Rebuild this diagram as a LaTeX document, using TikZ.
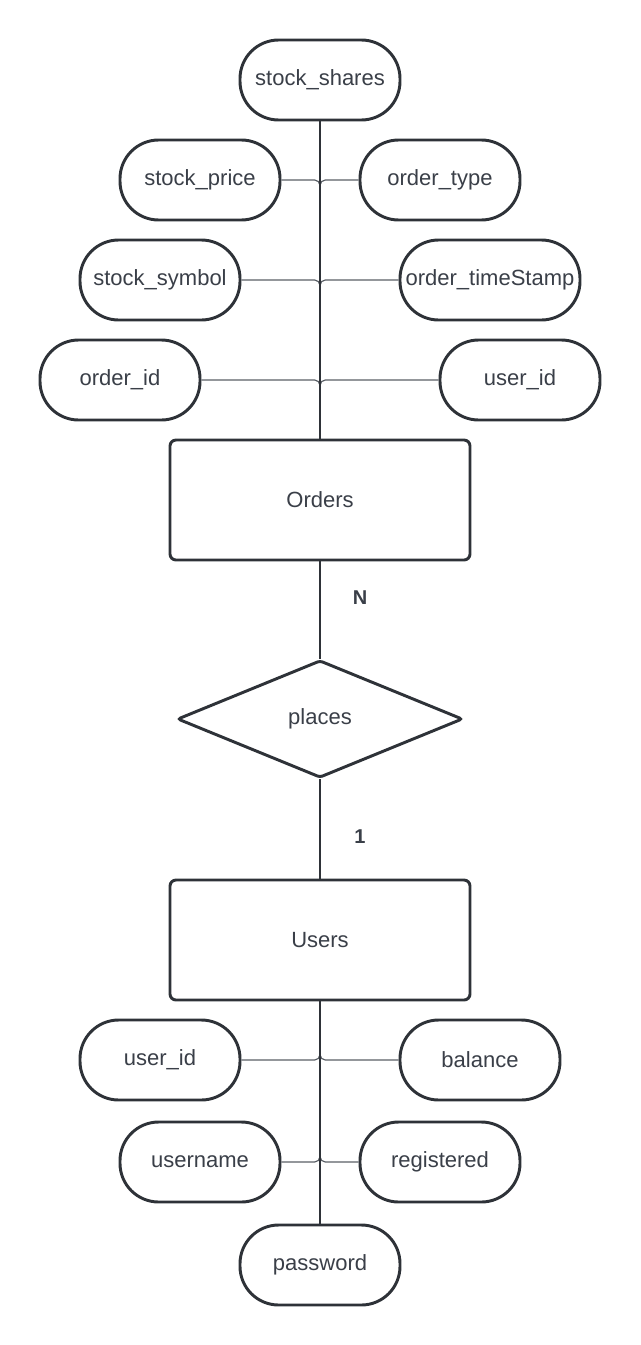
\documentclass[tikz,border=0pt]{standalone}
\usepackage{fontspec}
\setmainfont{Liberation Sans}
\usetikzlibrary{shapes.geometric}
\definecolor{ink}{HTML}{2E3238}
\definecolor{txt}{HTML}{3A3F48}
\definecolor{wire}{HTML}{5A5F66}
\tikzset{
  attr/.style={draw=ink, line width=2.2pt, rectangle, rounded corners=29pt,
    minimum width=120pt, minimum height=60pt, inner sep=0pt,
    font=\fontsize{16.5}{18}\selectfont, text=txt, fill=white},
  entity/.style={draw=ink, line width=2.2pt, rectangle, rounded corners=4.5pt,
    minimum width=225pt, minimum height=90pt, inner sep=0pt,
    font=\fontsize{16.5}{18}\selectfont, text=txt, fill=white},
  rel/.style={draw=ink, line width=2.2pt, diamond, rounded corners=2pt,
    minimum width=214pt, minimum height=88pt, inner sep=0pt,
    font=\fontsize{16.5}{18}\selectfont, text=txt, fill=white},
  card/.style={font=\bfseries\fontsize{15}{17}\selectfont, text=txt},
  spine/.style={draw=ink, line width=1.4pt},
  link/.style={draw=wire, line width=0.9pt, rounded corners=4pt},
}
\begin{document}
\begin{tikzpicture}[x=0.75pt,y=-0.75pt]
\useasboundingbox (0,0) rectangle (640,1345);
% nodes
\node[attr] (shares) at (320,80) {stock\_shares};
\node[attr] (price) at (200,180) {stock\_price};
\node[attr] (otype) at (440,180) {order\_type};
\node[attr] (symbol) at (160,280) {stock\_symbol};
\node[attr, minimum width=135pt] (ots) at (490,280) {order\_timeStamp};
\node[attr] (oid) at (120,380) {order\_id};
\node[attr] (ouid) at (520,380) {user\_id};
\node[entity] (orders) at (320,500) {Orders};
\node[rel] (places) at (320,719) {places};
\node[entity] (users) at (320,940) {Users};
\node[attr] (uid) at (160,1060) {user\_id};
\node[attr] (balance) at (480,1060) {balance};
\node[attr] (uname) at (200,1162) {username};
\node[attr] (reg) at (440,1162) {registered};
\node[attr] (pwd) at (320,1265) {password};
\node[card] (n) at (360,598) {N};
\node[card] (one) at (360,837) {1};
% attribute connectors
\draw[link] (price.east) -| (orders.north);
\draw[link] (otype.west) -| (orders.north);
\draw[link] (symbol.east) -| (orders.north);
\draw[link] (ots.west) -| (orders.north);
\draw[link] (oid.east) -| (orders.north);
\draw[link] (ouid.west) -| (orders.north);
\draw[link] (uid.east) -| (users.south);
\draw[link] (balance.west) -| (users.south);
\draw[link] (uname.east) -| (users.south);
\draw[link] (reg.west) -| (users.south);
% spines
\draw[spine] (shares.south) -- (orders.north);
\draw[spine] (orders.south) -- (places.north);
\draw[spine] (places.south) -- (users.north);
\draw[spine] (users.south) -- (pwd.north);
\end{tikzpicture}
\end{document}
